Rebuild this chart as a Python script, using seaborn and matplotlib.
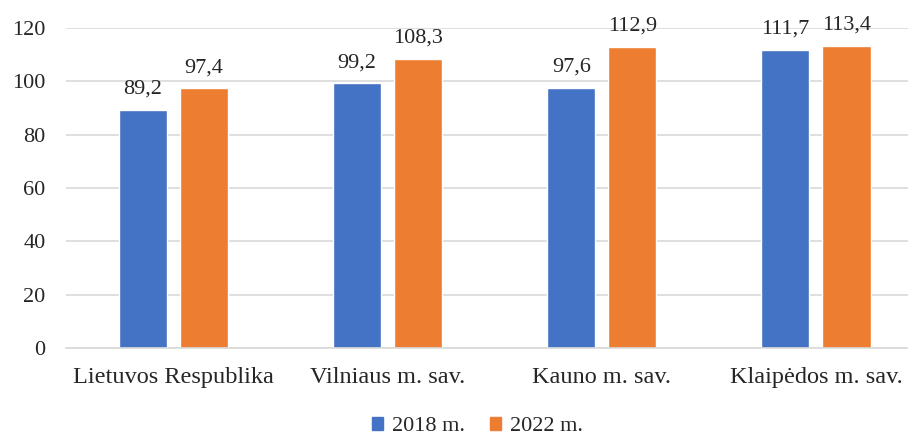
import matplotlib.pyplot as plt
import pandas as pd
import seaborn as sns

# Chart data
regions = ["Lietuvos Respublika", "Vilniaus m. sav.", "Kauno m. sav.", "Klaipėdos m. sav."]
years = ["2018 m.", "2022 m."]
values_2018 = [89.2, 99.2, 97.6, 111.7]
values_2022 = [97.4, 108.3, 112.9, 113.4]

df = pd.DataFrame({
    "Region": regions * 2,
    "Year": [years[0]] * 4 + [years[1]] * 4,
    "Value": values_2018 + values_2022,
})

sns.set_style("white")
plt.rcParams['font.family'] = ['Liberation Serif', 'DejaVu Serif']

fig, ax = plt.subplots(figsize=(9.08, 4.37), dpi=100)
fig.subplots_adjust(left=0.073, right=1.0, bottom=0.204, top=0.936)

sns.barplot(data=df, x="Region", y="Value", hue="Year",
            palette=["#4472C4", "#ED7D31"], width=0.57, gap=0.21,
            saturation=1, legend=False, ax=ax)

# value labels with decimal comma
for cont in ax.containers:
    ax.bar_label(cont, labels=[f"{v:.1f}".replace(".", ",") for v in cont.datavalues],
                 padding=8, fontsize=16)

ax.set_xlim(-0.5, 3.43)
ax.set_ylim(0, 120)
ax.set_yticks(range(0, 121, 20))
ax.yaxis.grid(True, color="#D9D9D9", linewidth=1.2)
ax.set_axisbelow(True)
ax.set_xlabel("")
ax.set_ylabel("")
ax.tick_params(axis="both", labelsize=16, length=0)
ax.tick_params(axis="x", pad=14, labelsize=17.5)
ax.tick_params(axis="y", pad=15)
for s in ["top", "right", "left"]:
    ax.spines[s].set_visible(False)
ax.spines["bottom"].set_color("#D9D9D9")
ax.spines["bottom"].set_linewidth(1.2)

handles = [plt.Rectangle((0, 0), 1, 1, color=c) for c in ["#4472C4", "#ED7D31"]]
fig.legend(handles, years, loc="center", bbox_to_anchor=(0.526, 0.024), ncol=2,
           frameon=False, fontsize=16, handlelength=0.5, handleheight=0.5,
           columnspacing=1.1, handletextpad=0.4, borderpad=0.2)

fig.savefig("out.png")
